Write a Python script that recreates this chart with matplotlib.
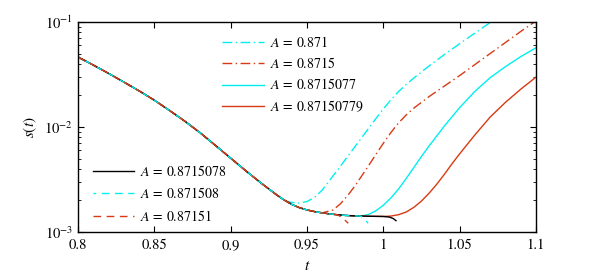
import numpy as np
import matplotlib
matplotlib.use("Agg")
import matplotlib.pyplot as plt
from matplotlib.ticker import LogLocator, NullFormatter

plt.rcParams['font.family'] = ['STIXGeneral', 'DejaVu Sans']
plt.rcParams['mathtext.fontset'] = 'stix'

# shared early-time part of all curves
t_common = [0.80, 0.81, 0.82, 0.83, 0.84, 0.85, 0.86, 0.87, 0.88, 0.89, 0.90, 0.91, 0.92,
            0.925, 0.93, 0.935, 0.94, 0.945, 0.95, 0.955, 0.96, 0.965, 0.97, 0.975, 0.98,
            0.985, 0.99, 1.0]
s_common = [0.0464, 0.0389, 0.0324, 0.0268, 0.0221, 0.0180, 0.01435, 0.01135, 0.00881, 0.00668,
            0.00505, 0.00382, 0.00292, 0.00257, 0.002265, 0.002018, 0.001832, 0.001706, 0.001622,
            0.001563, 0.001521, 0.001486, 0.001459, 0.001439, 0.001426, 0.001419, 0.001413, 0.001406]

# A = 0.871 (cyan dash-dot)
t_a871 = [0.935, 0.94, 0.945, 0.95, 0.955, 0.96, 0.965, 0.97, 0.98, 0.99, 0.995, 1.0, 1.005,
          1.01, 1.015, 1.02, 1.03, 1.04, 1.05, 1.06, 1.07]
s_a871 = [0.00200, 0.001914, 0.001884, 0.00195, 0.00214, 0.00251, 0.00313, 0.00389, 0.00610,
          0.00955, 0.01197, 0.01486, 0.01820, 0.02178, 0.02547, 0.02931, 0.03819, 0.04898,
          0.06209, 0.07852, 0.09886]

# A = 0.8715 (red dash-dot)
t_a8715 = [0.967, 0.972, 0.977, 0.982, 0.99, 1.0, 1.005, 1.01, 1.015, 1.02, 1.03, 1.04, 1.05,
           1.06, 1.07, 1.08, 1.09, 1.1]
s_a8715 = [0.00162, 0.00186, 0.00226, 0.00282, 0.00422, 0.0070, 0.00887, 0.01096, 0.01303,
           0.01514, 0.01950, 0.02455, 0.03090, 0.03936, 0.05012, 0.06383, 0.08128, 0.1023]

# A = 0.8715077 (cyan solid)
t_a8715077 = [0.99, 0.995, 1.0, 1.005, 1.01, 1.015, 1.02, 1.025, 1.03, 1.04, 1.05, 1.06, 1.07,
              1.08, 1.09, 1.1]
s_a8715077 = [0.001462, 0.001585, 0.001799, 0.002113, 0.00257, 0.003236, 0.004121, 0.005248,
              0.006607, 0.01023, 0.01531, 0.02188, 0.02951, 0.03758, 0.04677, 0.05689]

# A = 0.87150779 (red solid)
t_a87150779 = [1.005, 1.01, 1.015, 1.02, 1.025, 1.03, 1.035, 1.04, 1.045, 1.05, 1.06, 1.07,
               1.08, 1.09, 1.1]
s_a87150779 = [0.001419, 0.001462, 0.001549, 0.001718, 0.001972, 0.002344, 0.002851, 0.003548,
               0.004467, 0.005559, 0.008414, 0.01245, 0.01718, 0.02291, 0.02985]

# A = 0.8715078 (black solid)
t_a8715078 = [1.004, 1.0065, 1.0083]
s_a8715078 = [0.001387, 0.001343, 0.001282]

# A = 0.871508 (cyan dashed)
t_a871508 = [0.9875, 0.990]
s_a871508 = [0.001349, 0.001211]

# A = 0.87151 (red dashed)
t_a87151 = [0.9735, 0.977]
s_a87151 = [0.001355, 0.001211]

x_ticks = [0.8, 0.85, 0.9, 0.95, 1.0, 1.05, 1.1]
x_ticklabels = ['0.8', '0.85', '0.9', '0.95', '1', '1.05', '1.1']

CYAN = '#00f0f0'
RED = '#d93a14'


def series(t_tail, s_tail, t_end):
    tc = [t for t in t_common if t <= t_end]
    sc = [s for t, s in zip(t_common, s_common) if t <= t_end]
    return tc + list(t_tail), sc + list(s_tail)


fig = plt.figure(figsize=(5.92, 2.78), dpi=100)
ax = fig.add_axes([78/592, 46/278, 458/592, 210/278])

lw = 1.0
dashdot = (7, 2.5, 1, 2.5)
dashed = (5.5, 4)

t, s = series(t_a871, s_a871, 0.930)
l1, = ax.plot(t, s, color=CYAN, lw=lw, dashes=dashdot, label=r'$A\,=\,0.871$')
t, s = series(t_a8715, s_a8715, 0.962)
l2, = ax.plot(t, s, color=RED, lw=lw, dashes=dashdot, label=r'$A\,=\,0.8715$')
t, s = series(t_a8715077, s_a8715077, 0.985)
l3, = ax.plot(t, s, color=CYAN, lw=lw, label=r'$A\,=\,0.8715077$')
t, s = series(t_a87150779, s_a87150779, 1.0)
l4, = ax.plot(t, s, color=RED, lw=lw, label=r'$A\,=\,0.87150779$')
t, s = series(t_a8715078, s_a8715078, 1.0)
l5, = ax.plot(t, s, color='black', lw=lw, label=r'$A\,=\,0.8715078$')
t, s = series(t_a871508, s_a871508, 0.985)
l6, = ax.plot(t, s, color=CYAN, lw=lw, linestyle=(3.5, dashed), label=r'$A\,=\,0.871508$')
t, s = series(t_a87151, s_a87151, 0.970)
l7, = ax.plot(t, s, color=RED, lw=lw, linestyle=(0, dashed), label=r'$A\,=\,0.87151$')

ax.set_yscale('log')
ax.set_xlim(0.8, 1.1)
ax.set_ylim(1e-3, 1e-1)
ax.set_xticks(x_ticks)
ax.set_xticklabels(x_ticklabels)
ax.yaxis.set_major_locator(LogLocator(base=10, numticks=5))
ax.yaxis.set_minor_locator(LogLocator(base=10, subs=np.arange(2, 10), numticks=20))
ax.yaxis.set_minor_formatter(NullFormatter())
ax.tick_params(which='both', direction='in', top=True, right=True, labelsize=10.5)
ax.tick_params(which='major', length=4, width=0.8)
ax.tick_params(which='minor', length=2.2, width=0.6)
ax.tick_params(axis='x', pad=5)
for sp in ax.spines.values():
    sp.set_linewidth(1.0)

ax.set_xlabel(r'$t$', fontsize=11, labelpad=5)
ax.set_ylabel(r'$s(t)$', fontsize=11, labelpad=4)

leg1 = ax.legend(handles=[l1, l2, l3, l4], loc='upper left', bbox_to_anchor=(0.303, 0.965),
                 frameon=False, fontsize=10, handlelength=3.0, handletextpad=0.4,
                 labelspacing=0.45, borderaxespad=0)
ax.add_artist(leg1)
ax.legend(handles=[l5, l6, l7], loc='lower left', bbox_to_anchor=(0.02, 0.012),
          frameon=False, fontsize=10, handlelength=3.0, handletextpad=0.4,
          labelspacing=0.55, borderaxespad=0)

fig.savefig('out.png', dpi=100)
